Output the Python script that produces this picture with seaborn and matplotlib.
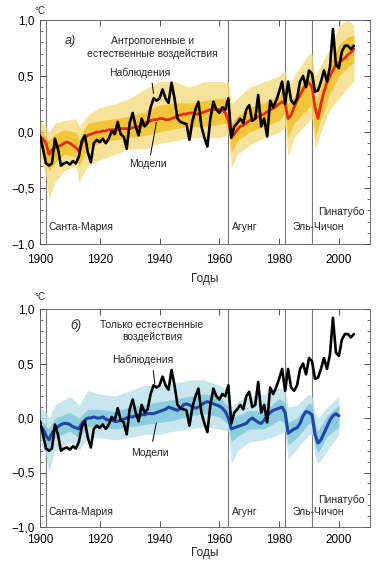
import numpy as np
import pandas as pd
import seaborn as sns
import matplotlib.pyplot as plt
from matplotlib.ticker import MultipleLocator, FixedLocator

obs_years = list(range(1900, 2006))
obs = [-0.03, -0.15, -0.28, -0.30, -0.28, -0.06, -0.15, -0.30, -0.28, -0.27,
       -0.29, -0.26, -0.28, -0.22, -0.08, -0.03, -0.18, -0.27, -0.10, -0.07,
       -0.09, -0.06, -0.10, -0.06, 0.01, -0.02, 0.09, -0.02, -0.04, -0.15,
       0.08, 0.17, 0.05, -0.03, 0.12, 0.05, 0.08, 0.22, 0.30, 0.28,
       0.30, 0.38, 0.30, 0.26, 0.44, 0.30, 0.12, 0.09, 0.08, 0.07,
       -0.07, 0.10, 0.20, 0.27, 0.05, -0.05, -0.13, 0.12, 0.27, 0.20,
       0.17, 0.22, 0.20, 0.30, -0.05, 0.05, 0.08, 0.12, 0.08, 0.20,
       0.24, 0.10, 0.12, 0.33, 0.05, 0.12, -0.04, 0.28, 0.22, 0.28,
       0.36, 0.45, 0.25, 0.45, 0.28, 0.25, 0.30, 0.45, 0.50, 0.40,
       0.55, 0.52, 0.36, 0.37, 0.45, 0.55, 0.45, 0.58, 0.92, 0.60,
       0.57, 0.72, 0.77, 0.77, 0.74, 0.77]

# Multi-model mean, anthropogenic + natural forcing (red)
all_years = list(range(1900, 2006))
all_mean = [-0.05, -0.06, -0.10, -0.20, -0.16, -0.14, -0.13, -0.12, -0.10, -0.09,
            -0.10, -0.12, -0.14, -0.17, -0.10, -0.05, -0.03, -0.02, -0.01, 0.00,
            0.00, 0.01, 0.01, 0.02, 0.02, 0.02, 0.02, 0.03, 0.03, 0.03,
            0.03, 0.04, 0.04, 0.05, 0.06, 0.08, 0.09, 0.10, 0.11, 0.11,
            0.12, 0.12, 0.11, 0.11, 0.12, 0.13, 0.15, 0.15, 0.16, 0.16,
            0.17, 0.17, 0.16, 0.16, 0.17, 0.18, 0.19, 0.20, 0.20, 0.20,
            0.20, 0.20, 0.17, 0.10, -0.05, -0.02, 0.02, 0.05, 0.06, 0.08,
            0.10, 0.11, 0.12, 0.14, 0.15, 0.16, 0.18, 0.20, 0.21, 0.23,
            0.25, 0.27, 0.25, 0.12, 0.15, 0.22, 0.28, 0.33, 0.38, 0.43,
            0.44, 0.40, 0.22, 0.12, 0.25, 0.36, 0.44, 0.50, 0.55, 0.60,
            0.62, 0.64, 0.66, 0.69, 0.71, 0.74]

# Spread of individual runs (yellow), outer and inner envelopes
all_env_years = [1900, 1902, 1903, 1905, 1908, 1912, 1913, 1916, 1920, 1925, 1930, 1935,
                 1940, 1945, 1950, 1955, 1960, 1963, 1964, 1966, 1970, 1975, 1980, 1982,
                 1983, 1985, 1990, 1991, 1992, 1994, 1997, 2000, 2003, 2005]
all_lo = [-0.20, -0.40, -0.60, -0.45, -0.35, -0.30, -0.45, -0.30, -0.25, -0.20, -0.15, -0.15,
          -0.10, -0.08, -0.05, -0.05, -0.05, -0.02, -0.32, -0.20, -0.12, -0.05, 0.00, 0.05,
          -0.22, -0.05, 0.10, 0.12, -0.16, 0.00, 0.20, 0.30, 0.40, 0.45]
all_hi = [0.10, 0.05, 0.00, 0.08, 0.10, 0.12, 0.05, 0.15, 0.22, 0.25, 0.30, 0.38,
          0.45, 0.45, 0.40, 0.45, 0.45, 0.45, 0.25, 0.30, 0.40, 0.45, 0.50, 0.55,
          0.40, 0.50, 0.70, 0.70, 0.50, 0.60, 0.75, 0.95, 1.00, 0.95]
all_in_lo = [-0.12, -0.25, -0.35, -0.28, -0.20, -0.22, -0.30, -0.15, -0.10, -0.07, -0.05, -0.03,
             0.00, 0.03, 0.05, 0.05, 0.07, 0.08, -0.18, -0.08, 0.00, 0.05, 0.10, 0.18,
             -0.05, 0.08, 0.22, 0.25, -0.05, 0.12, 0.35, 0.50, 0.58, 0.62]
all_in_hi = [0.03, -0.05, -0.08, -0.02, 0.02, 0.00, -0.07, 0.08, 0.10, 0.12, 0.14, 0.18,
             0.24, 0.26, 0.26, 0.28, 0.30, 0.30, 0.08, 0.14, 0.22, 0.26, 0.32, 0.40,
             0.25, 0.32, 0.52, 0.52, 0.25, 0.40, 0.62, 0.78, 0.85, 0.86]

# Multi-model mean, natural forcing only (blue)
nat_years = list(range(1900, 2001))
nat_mean = [-0.08, -0.10, -0.16, -0.20, -0.14, -0.10, -0.08, -0.06, -0.05, -0.05,
            -0.06, -0.08, -0.09, -0.10, -0.05, -0.02, 0.00, 0.00, 0.01, 0.00,
            0.00, 0.01, -0.01, -0.02, -0.02, -0.03, -0.03, -0.02, -0.01, 0.00,
            0.01, 0.01, 0.02, 0.02, 0.03, 0.03, 0.04, 0.04, 0.04, 0.05,
            0.06, 0.07, 0.08, 0.10, 0.09, 0.08, 0.07, 0.09, 0.12, 0.13,
            0.12, 0.10, 0.09, 0.10, 0.12, 0.14, 0.15, 0.14, 0.13, 0.12,
            0.11, 0.09, 0.06, 0.00, -0.10, -0.09, -0.08, -0.07, -0.06, -0.05,
            -0.02, 0.00, -0.02, -0.04, -0.05, -0.02, 0.02, 0.05, 0.07, 0.08,
            0.09, 0.10, 0.05, -0.14, -0.12, -0.10, -0.09, -0.05, 0.02, 0.06,
            0.05, 0.03, -0.15, -0.23, -0.20, -0.14, -0.08, -0.02, 0.02, 0.04,
            0.02]

nat_env_years = [1900, 1902, 1903, 1905, 1910, 1913, 1916, 1920, 1925, 1930, 1935, 1940,
                 1945, 1950, 1955, 1960, 1963, 1964, 1966, 1970, 1975, 1980, 1982, 1983,
                 1986, 1990, 1991, 1992, 1993, 1996, 2000]
nat_lo = [-0.20, -0.35, -0.50, -0.30, -0.22, -0.30, -0.18, -0.18, -0.20, -0.18, -0.15, -0.15,
          -0.12, -0.10, -0.08, -0.10, -0.12, -0.42, -0.30, -0.22, -0.20, -0.15, -0.12, -0.38,
          -0.28, -0.15, -0.15, -0.35, -0.42, -0.30, -0.15]
nat_hi = [0.10, 0.05, 0.00, 0.12, 0.20, 0.12, 0.25, 0.22, 0.20, 0.25, 0.30, 0.30,
          0.32, 0.35, 0.35, 0.30, 0.25, 0.10, 0.15, 0.20, 0.22, 0.28, 0.25, 0.10,
          0.12, 0.22, 0.20, 0.05, 0.00, 0.10, 0.20]
nat_in_lo = [-0.15, -0.25, -0.30, -0.18, -0.12, -0.18, -0.08, -0.08, -0.10, -0.08, -0.06, -0.04,
             -0.02, 0.02, 0.04, 0.01, -0.06, -0.22, -0.17, -0.10, -0.10, -0.02, -0.05, -0.25,
             -0.18, -0.05, -0.06, -0.25, -0.32, -0.17, -0.08]
nat_in_hi = [0.00, -0.07, -0.10, 0.00, 0.05, 0.00, 0.08, 0.08, 0.06, 0.10, 0.12, 0.15,
             0.17, 0.20, 0.22, 0.20, 0.10, 0.00, 0.02, 0.07, 0.06, 0.18, 0.14, -0.04,
             0.00, 0.14, 0.12, -0.05, -0.12, 0.02, 0.12]

# Volcanic eruptions
volcano_years = [1902, 1963, 1982, 1991]
volcano_names = ['Санта-Мария', 'Агунг', 'Эль-Чичон', 'Пинатубо']

ytick_vals = [-1.0, -0.5, 0.0, 0.5, 1.0]
ytick_labels = ['\u22121,0', '\u22120,5', '0,0', '0,5', '1,0']
xtick_vals = [1900, 1920, 1940, 1960, 1980, 2000]

sns.set_theme(style='ticks')
plt.rcParams['font.family'] = ['Liberation Sans', 'DejaVu Sans']

fig = plt.figure(figsize=(3.77, 5.64), dpi=100)
ax_a = fig.add_axes([40 / 377, 1 - 244 / 564, 330 / 377, 224 / 564])
ax_b = fig.add_axes([40 / 377, 1 - 527 / 564, 330 / 377, 218 / 564])


def setup_axes(ax, xpad, lpad):
    ax.set_xlim(1900, 2010.4)
    ax.set_ylim(-1.0, 1.0)
    ax.set_xticks(xtick_vals)
    ax.set_xticklabels([str(v) for v in xtick_vals], fontsize=8.5)
    ax.yaxis.set_major_locator(FixedLocator(ytick_vals))
    ax.set_yticklabels(ytick_labels, fontsize=8.5)
    ax.yaxis.set_minor_locator(MultipleLocator(0.1))
    ax.tick_params(axis='both', which='both', direction='in', right=True, top=True,
                   colors='#333333')
    ax.tick_params(axis='x', which='major', pad=xpad)
    ax.tick_params(axis='y', which='major', pad=4)
    ax.tick_params(axis='both', which='major', length=4, width=0.6)
    ax.tick_params(axis='y', which='minor', length=2.5, width=0.5)
    ax.tick_params(axis='both', labelcolor='black')
    for s in ax.spines.values():
        s.set_linewidth(0.6)
        s.set_color('#555555')
    for vy in volcano_years:
        ax.axvline(vy, color='#777777', lw=0.8, zorder=1)
    ax.set_xlabel('Годы', fontsize=8.5, labelpad=lpad)
    ax.set_ylabel('')


# ---- panel a ----
ax = ax_a
ax.fill_between(all_env_years, all_lo, all_hi, color='#f6d978', alpha=0.75, lw=0, zorder=2)
ax.fill_between(all_env_years, all_in_lo, all_in_hi, color='#f2b90f', alpha=0.7, lw=0, zorder=2)
sns.lineplot(x=all_years, y=all_mean, ax=ax, color='#e52a17', lw=2.0, zorder=4)
sns.lineplot(x=obs_years, y=obs, ax=ax, color='black', lw=1.9, zorder=5)
setup_axes(ax, 7, 5)
ax.text(1910, 0.81, 'а)', fontsize=9, style='italic', ha='center', va='center')
ax.text(1937.5, 0.81, 'Антропогенные и', fontsize=7.5, ha='center', va='center')
ax.text(1937.5, 0.70, 'естественные воздействия', fontsize=7.5, ha='center', va='center')
ax.text(1933.4, 0.53, 'Наблюдения', fontsize=7.5, ha='center', va='center')
ax.annotate('', xy=(1938.1, 0.32), xytext=(1937.4, 0.46),
            arrowprops=dict(arrowstyle='-', lw=0.7, color='black'))
ax.text(1936.1, -0.29, 'Модели', fontsize=7.5, ha='center', va='center')
ax.annotate('', xy=(1939.1, 0.11), xytext=(1936.8, -0.23),
            arrowprops=dict(arrowstyle='-', lw=0.7, color='black'))
vx = [1902.7, 1964.2, 1984.6, 1993.0]
vy_a = [-0.85, -0.85, -0.85, -0.71]
for name, x, y in zip(volcano_names, vx, vy_a):
    ax.text(x, y, name, fontsize=7.5, ha='left', va='center')

# ---- panel b ----
ax = ax_b
ax.fill_between(nat_env_years, nat_lo, nat_hi, color='#b9e0ea', alpha=0.8, lw=0, zorder=2)
ax.fill_between(nat_env_years, nat_in_lo, nat_in_hi, color='#6cbfd6', alpha=0.65, lw=0, zorder=2)
sns.lineplot(x=nat_years, y=nat_mean, ax=ax, color='#1f45a8', lw=2.2, zorder=4)
sns.lineplot(x=obs_years, y=obs, ax=ax, color='black', lw=1.9, zorder=5)
setup_axes(ax, 5, 1)
ax.text(1912, 0.85, 'б)', fontsize=9, style='italic', ha='center', va='center')
ax.text(1937.5, 0.85, 'Только естественные', fontsize=7.5, ha='center', va='center')
ax.text(1937.5, 0.74, 'воздействия', fontsize=7.5, ha='center', va='center')
ax.text(1934.4, 0.53, 'Наблюдения', fontsize=7.5, ha='center', va='center')
ax.annotate('', xy=(1938.5, 0.29), xytext=(1937.8, 0.46),
            arrowprops=dict(arrowstyle='-', lw=0.7, color='black'))
ax.text(1936.8, -0.32, 'Модели', fontsize=7.5, ha='center', va='center')
ax.annotate('', xy=(1939.1, -0.02), xytext=(1937.5, -0.24),
            arrowprops=dict(arrowstyle='-', lw=0.7, color='black'))
vy_b = [-0.86, -0.86, -0.86, -0.75]
for name, x, y in zip(volcano_names, vx, vy_b):
    ax.text(x, y, name, fontsize=7.5, ha='left', va='center')

# degree labels above the y axes
fig.text(40 / 377, 1 - 11 / 564, '°C', fontsize=7, ha='center', va='center')
fig.text(40 / 377, 1 - 297 / 564, '°C', fontsize=7, ha='center', va='center')

fig.savefig('out.png', dpi=100, facecolor='white')
